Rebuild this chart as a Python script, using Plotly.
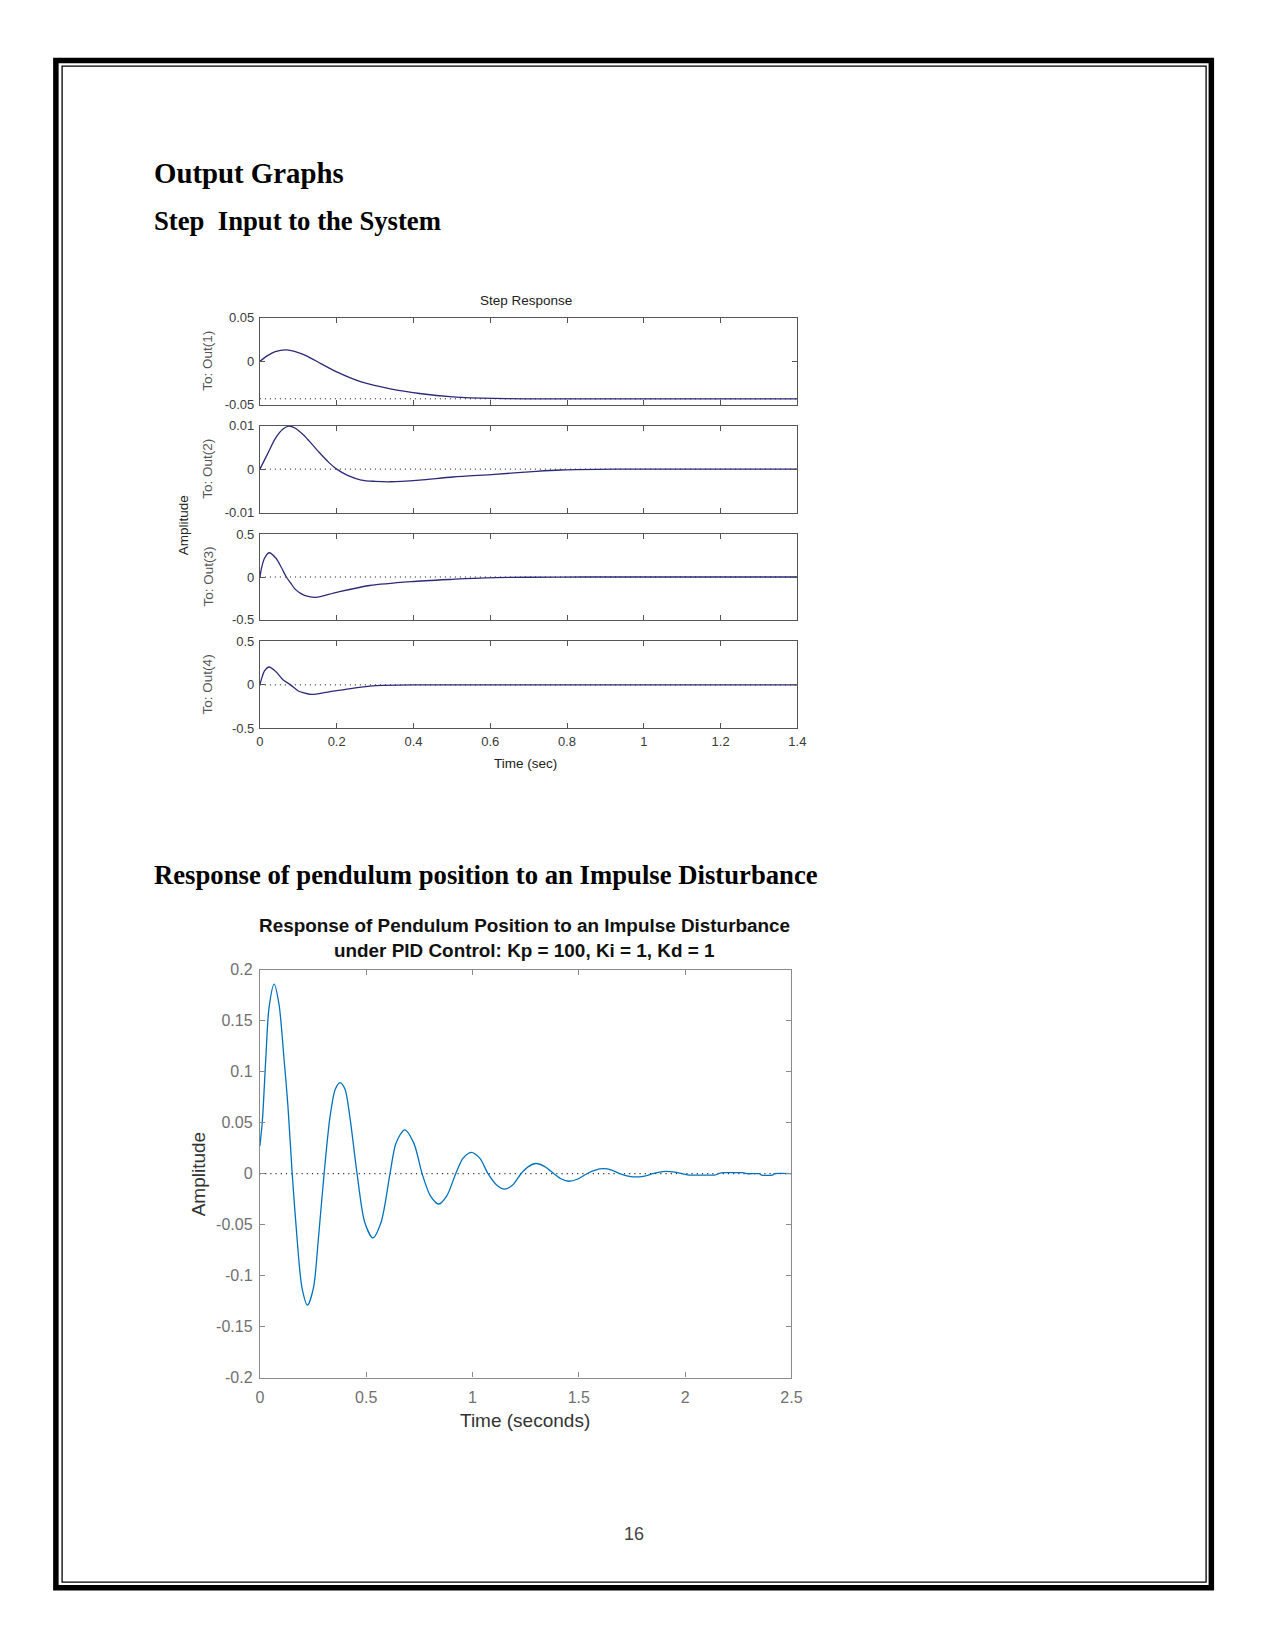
import plotly.graph_objects as go

# Positions are given in page pixels (the page is shown with no margin).
W, H = 1250, 1630


def fx(x):
    return x / W


def fy(y):
    return 1 - y / H


# ---------------- data: step response (4 outputs) ----------------
step_t1 = [0, 0.02, 0.04, 0.069, 0.10, 0.124, 0.16, 0.2, 0.264, 0.34, 0.416, 0.503, 0.611, 0.7, 0.85, 1.0, 1.2, 1.4]
step_y1 = [0, 0.0065, 0.011, 0.013, 0.0100, 0.0057, -0.003, -0.0122, -0.0237, -0.0317, -0.037, -0.0408, -0.0427,
           -0.0431, -0.0431, -0.0431, -0.0431, -0.0431]

step_t2 = [0, 0.02, 0.04, 0.06, 0.075, 0.09, 0.113, 0.135, 0.156, 0.18, 0.2, 0.23, 0.264, 0.30, 0.34, 0.416, 0.503,
           0.611, 0.72, 0.784, 0.925, 1.1, 1.4]
step_y2 = [0, 0.0035, 0.0070, 0.0092, 0.0099, 0.0095, 0.0079, 0.0058, 0.0037, 0.0015, 0.0, -0.0015, -0.0025, -0.0028,
           -0.0029, -0.0025, -0.0018, -0.0012, -0.0005, -0.0002, 0, 0, 0]

step_t3 = [0, 0.005, 0.012, 0.024, 0.042, 0.055, 0.069, 0.08, 0.091, 0.105, 0.118, 0.145, 0.2, 0.286, 0.394, 0.503,
           0.589, 0.7, 0.85, 1.0, 1.2, 1.4]
step_y3 = [0, 0.12, 0.22, 0.285, 0.22, 0.12, 0.0, -0.07, -0.14, -0.19, -0.22, -0.24, -0.18, -0.10, -0.054, -0.027,
           -0.01, -0.003, 0, 0, 0, 0]

step_t4 = [0, 0.005, 0.012, 0.024, 0.042, 0.06, 0.08, 0.1, 0.113, 0.134, 0.177, 0.232, 0.286, 0.32, 0.4, 0.6, 0.8,
           1.0, 1.2, 1.4]
step_y4 = [0, 0.08, 0.16, 0.205, 0.15, 0.06, 0.0, -0.07, -0.09, -0.11, -0.083, -0.045, -0.015, -0.005, 0, 0, 0, 0, 0,
           0]

step_final = [-0.0431, 0, 0, 0]
step_ranges = [[-0.05, 0.05], [-0.01, 0.01], [-0.5, 0.5], [-0.5, 0.5]]
step_yticks = [[-0.05, 0, 0.05], [-0.01, 0, 0.01], [-0.5, 0, 0.5], [-0.5, 0, 0.5]]
step_yticktext = [["-0.05", "0", "0.05"], ["-0.01", "0", "0.01"], ["-0.5", "0", "0.5"], ["-0.5", "0", "0.5"]]
step_names = ["To: Out(1)", "To: Out(2)", "To: Out(3)", "To: Out(4)"]
step_xticks = [0, 0.2, 0.4, 0.6, 0.8, 1.0, 1.2, 1.4]
step_xticktext = ["0", "0.2", "0.4", "0.6", "0.8", "1", "1.2", "1.4"]

# ---------------- data: impulse response ----------------
imp_t = [0, 0.012, 0.028, 0.043, 0.067, 0.090, 0.113, 0.132, 0.152, 0.175, 0.198, 0.224, 0.252, 0.275, 0.302,
         0.330, 0.355, 0.377, 0.400, 0.423, 0.457, 0.493, 0.531, 0.570, 0.612, 0.640, 0.681, 0.724, 0.763,
         0.802, 0.841, 0.879, 0.921, 0.955, 0.993, 1.035, 1.073, 1.112, 1.151, 1.190, 1.228, 1.263, 1.298,
         1.340, 1.383, 1.418, 1.453, 1.495, 1.538, 1.577, 1.616, 1.655, 1.693, 1.731, 1.770, 1.809, 1.848,
         1.879, 1.910, 1.950, 1.987, 2.02, 2.08, 2.14, 2.157, 2.18, 2.22, 2.27, 2.29, 2.35, 2.36, 2.41, 2.42, 2.5]
imp_y = [0.027, 0.053, 0.114, 0.163, 0.186, 0.166, 0.114, 0.066, 0.0, -0.064, -0.112, -0.129, -0.112, -0.064, 0.0,
         0.056, 0.083, 0.0893, 0.083, 0.056, 0.0, -0.0476, -0.063, -0.0476, 0.0, 0.030, 0.0431, 0.030, 0.0,
         -0.0217, -0.0297, -0.0217, 0.0, 0.015, 0.021, 0.015, 0.0, -0.0108, -0.0152, -0.0108, 0.0, 0.007, 0.010,
         0.007, 0.0, -0.0052, -0.0074, -0.0052, 0.0, 0.0035, 0.0049, 0.0035, 0.0, -0.0023, -0.0032, -0.0023, 0.0,
         0.0016, 0.0023, 0.0016, 0.0, -0.0013, -0.0013, -0.0013, 0.0, 0.001, 0.001, 0.001, 0.0, 0.0, -0.0013,
         -0.0013, 0.0, 0.0]
imp_xticks = [0, 0.5, 1, 1.5, 2, 2.5]
imp_xticktext = ["0", "0.5", "1", "1.5", "2", "2.5"]
imp_yticks = [-0.2, -0.15, -0.1, -0.05, 0, 0.05, 0.1, 0.15, 0.2]
imp_yticktext = ["-0.2", "-0.15", "-0.1", "-0.05", "0", "0.05", "0.1", "0.15", "0.2"]

# ---------------- layout geometry (page pixels) ----------------
STEP_X = (259, 803)
STEP_PANELS = [(313, 401), (422, 510), (532, 618), (640, 728)]
IMP_X = (259, 797)
IMP_Y = (972, 1384)

SANS = "Liberation Sans, Arial, sans-serif"
SERIF = "Liberation Serif, Times New Roman, serif"
STEP_LINE = "#2a2a78"
STEP_AX = "#555555"
IMP_AX = "#8a8a8a"

fig = go.Figure()
layout = dict(
    width=W, height=H, margin=dict(l=0, r=0, t=0, b=0),
    paper_bgcolor="white", plot_bgcolor="white", showlegend=False,
)

step_t = [step_t1, step_t2, step_t3, step_t4]
step_y = [step_y1, step_y2, step_y3, step_y4]

for i in range(4):
    n = i + 1
    xa = "x" if n == 1 else f"x{n}"
    ya = "y" if n == 1 else f"y{n}"
    fig.add_trace(go.Scatter(x=[0, 1.4], y=[step_final[i], step_final[i]], mode="lines",
                             line=dict(color="#111111", width=1, dash="1px,4px"),
                             xaxis=xa, yaxis=ya, hoverinfo="skip"))
    fig.add_trace(go.Scatter(x=step_t[i], y=step_y[i], mode="lines",
                             line=dict(color=STEP_LINE, width=1.3, shape="spline", smoothing=0.8),
                             xaxis=xa, yaxis=ya))
    top, bot = STEP_PANELS[i]
    layout["xaxis" if n == 1 else f"xaxis{n}"] = dict(
        domain=[fx(STEP_X[0]), fx(STEP_X[1])], anchor=ya, range=[0, 1.4],
        tickvals=step_xticks, ticktext=step_xticktext, showticklabels=(n == 4),
        ticks="inside", ticklen=5, tickcolor=STEP_AX, showline=True, linecolor=STEP_AX, linewidth=1,
        mirror="ticks", showgrid=False, zeroline=False, ticklabelstandoff=1,
        tickfont=dict(family=SANS, size=13, color="#3a3a3a"),
    )
    layout["yaxis" if n == 1 else f"yaxis{n}"] = dict(
        domain=[fy(bot), fy(top)], anchor=xa, range=step_ranges[i],
        tickvals=step_yticks[i], ticktext=step_yticktext[i],
        ticks="inside", ticklen=5, tickcolor=STEP_AX, showline=True, linecolor=STEP_AX, linewidth=1,
        mirror="ticks", showgrid=False, zeroline=False, ticklabelstandoff=2,
        tickfont=dict(family=SANS, size=13, color="#3a3a3a"),
    )

# impulse chart
fig.add_trace(go.Scatter(x=[0, 2.5], y=[0, 0], mode="lines",
                         line=dict(color="#333333", width=1.2, dash="1.2px,4px"),
                         xaxis="x5", yaxis="y5", hoverinfo="skip"))
fig.add_trace(go.Scatter(x=imp_t, y=imp_y, mode="lines",
                         line=dict(color="#0072BD", width=1.3, shape="spline", smoothing=0.8),
                         xaxis="x5", yaxis="y5"))
layout["xaxis5"] = dict(
    domain=[fx(IMP_X[0]), fx(IMP_X[1])], anchor="y5", range=[0, 2.5],
    tickvals=imp_xticks, ticktext=imp_xticktext,
    ticks="inside", ticklen=5, tickcolor=IMP_AX, showline=True, linecolor=IMP_AX, linewidth=1.2,
    mirror="ticks", showgrid=False, zeroline=False, ticklabelstandoff=5,
    tickfont=dict(family=SANS, size=16, color="#707070"),
)
layout["yaxis5"] = dict(
    domain=[fy(IMP_Y[1]), fy(IMP_Y[0])], anchor="x5", range=[-0.2, 0.2],
    tickvals=imp_yticks, ticktext=imp_yticktext,
    ticks="inside", ticklen=5, tickcolor=IMP_AX, showline=True, linecolor=IMP_AX, linewidth=1.2,
    mirror="ticks", showgrid=False, zeroline=False, ticklabelstandoff=3,
    tickfont=dict(family=SANS, size=16, color="#707070"),
)

ann = []


def text(x, y, s, size, family=SANS, color="#222222", bold=False, xanchor="center", angle=0):
    if bold:
        s = f"<b>{s}</b>"
    ann.append(dict(x=fx(x), y=fy(y), xref="paper", yref="paper", text=s, showarrow=False,
                    xanchor=xanchor, yanchor="middle", textangle=angle,
                    font=dict(family=family, size=size, color=color)))


# page headings
text(150, 167, "Output Graphs", 28.8, SERIF, "black", True, "left")
text(150, 215, "Step&nbsp; Input to the System", 26.7, SERIF, "black", True, "left")
text(150, 876, "Response of pendulum position to an Impulse Disturbance", 26.7, SERIF, "black", True, "left")

# step chart texts
text(528, 296, "Step Response", 13.5, SANS, "#222222")
text(528, 763, "Time (sec)", 13.5, SANS, "#222222")
text(182, 523, "Amplitude", 13.5, SANS, "#222222", angle=-90)
for i in range(4):
    top, bot = STEP_PANELS[i]
    text(206, (top + bot) / 2, step_names[i], 13.5, SANS, "#555555", angle=-90)

# impulse chart texts
text(527, 927, "Response of Pendulum Position to an Impulse Disturbance", 18.9, SANS, "#111111", True)
text(527, 952, "under PID Control: Kp = 100, Ki = 1, Kd = 1", 18.9, SANS, "#111111", True)
text(527, 1427, "Time (seconds)", 19, SANS, "#333333")
text(197, 1178, "Amplitude", 19, SANS, "#333333", angle=-90)

# page number
text(637.5, 1542, "16", 18, SANS, "#444444")

layout["annotations"] = ann

# page border (thick outer + thin inner)
layout["shapes"] = [
    dict(type="rect", xref="paper", yref="paper", x0=fx(52.5), x1=fx(1222), y0=fy(1596.5), y1=fy(53),
         line=dict(color="black", width=5.5)),
    dict(type="rect", xref="paper", yref="paper", x0=fx(58.8), x1=fx(1216.7), y0=fy(1590.7), y1=fy(58.8),
         line=dict(color="black", width=1.3)),
]

fig.update_layout(**layout)
fig.write_html("out.html")
